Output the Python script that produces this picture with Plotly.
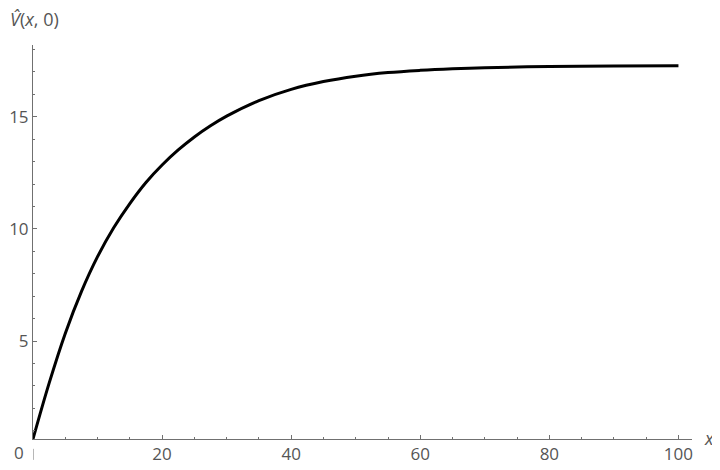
import plotly.graph_objects as go

# values
x_vals = [0, 2.5, 5, 7.5, 10, 12.5, 15, 17.5, 20, 22.5, 25, 27.5, 30,
          35, 40, 45, 50, 55, 60, 65, 70, 80, 90, 100]
v_vals = [0.63, 3.12, 5.34, 7.2, 8.76, 10.05, 11.13, 12.07, 12.85, 13.52, 14.1, 14.6, 15.03,
          15.72, 16.22, 16.57, 16.81, 16.97, 17.07, 17.14, 17.19, 17.24, 17.265, 17.28]

x_ticks = [20, 40, 60, 80, 100]
y_ticks = [5, 10, 15]

AXIS = "#707070"
TXT = "#555555"
FONT = "Open Sans"

fig = go.Figure()
fig.add_trace(go.Scatter(x=x_vals, y=v_vals, mode="lines", line=dict(color="black", width=3, shape="spline"),
                         cliponaxis=False, hoverinfo="skip"))

# the page body has an 8px margin, so the figure is shrunk to fit the window
fig.update_layout(
    width=712, height=462,
    margin=dict(l=25, r=28, t=37, b=31),
    plot_bgcolor="white", paper_bgcolor="white",
    showlegend=False,
    font=dict(family=FONT, size=16, color=TXT),
)
fig.update_xaxes(range=[0, 102.1], automargin=False, showgrid=False, zeroline=False, showline=True,
                 linecolor=AXIS, linewidth=1,
                 tickvals=x_ticks, ticks="inside", ticklen=4, tickcolor=AXIS,
                 minor=dict(dtick=5, tick0=0, ticks="inside", ticklen=2, tickcolor=AXIS),
                 tickfont=dict(size=17, color=TXT))
fig.update_yaxes(range=[0.63, 18.2], automargin=False, showgrid=False, zeroline=False, showline=True,
                 linecolor=AXIS, linewidth=1,
                 tickvals=y_ticks, ticks="inside", ticklen=4, tickcolor=AXIS,
                 minor=dict(dtick=1, tick0=0, ticks="inside", ticklen=2, tickcolor=AXIS),
                 tickfont=dict(size=17, color=TXT))

# x tick "0", shifted left of the vertical axis, with its short mark below the axis
fig.add_annotation(x=0, y=0, xref="x", yref="paper", text="0", showarrow=False,
                   xanchor="right", yanchor="top", xshift=-7, yshift=0, font=dict(size=17, color=TXT))
fig.add_shape(type="line", xref="x", yref="paper", x0=0, x1=0, y0=-0.025, y1=-0.053,
              line=dict(color=AXIS, width=1))

# axis labels
fig.add_annotation(x=0, y=1, xref="paper", yref="paper", text="<i>V̂</i>(<i>x</i>, 0)", showarrow=False,
                   xanchor="left", yanchor="bottom", xshift=-25, yshift=12, font=dict(size=18, color=TXT))
fig.add_annotation(x=1, y=0, xref="paper", yref="paper", text="<i>x</i>", showarrow=False,
                   xanchor="left", yanchor="middle", xshift=10, yshift=1, font=dict(size=18, color=TXT))

fig.write_html("out.html")
